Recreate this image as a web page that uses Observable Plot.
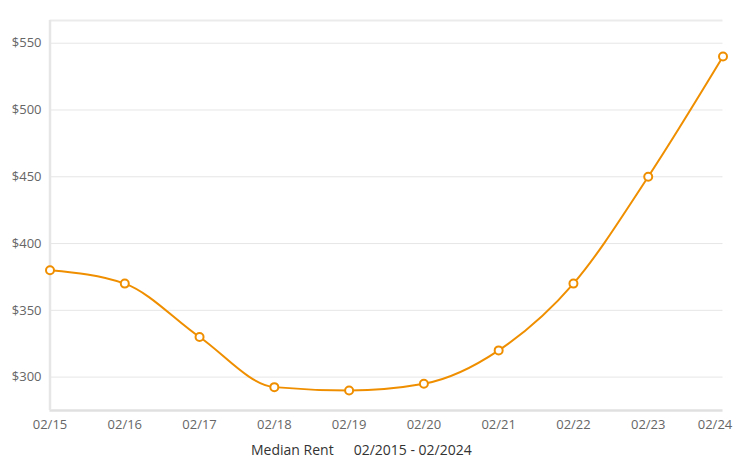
<!DOCTYPE html>
<html>
<head>
<meta charset="utf-8">
<script src="https://cdn.jsdelivr.net/npm/d3@7"></script>
<script src="https://cdn.jsdelivr.net/npm/@observablehq/plot@0.6"></script>
<style>
  body { margin: 0; background: #fff; font-family: "Open Sans", sans-serif; overflow: hidden; }
  #chart svg { display: block; }
  .caption { margin: 6px 0 0 251px; font-size: 14px; color: #333; white-space: pre; line-height: 19px; }
  .caption span + span { margin-left: 20px; }
</style>
</head>
<body>
<div id="chart"></div>
<script>
const months = ['02/15', '02/16', '02/17', '02/18', '02/19', '02/20', '02/21', '02/22', '02/23', '02/24'];
const rent = [380, 370, 330, 292.5, 290, 295, 320, 370, 450, 540];
const yTicks = [300, 350, 400, 450, 500, 550];
const yDomain = [275, 567];
const seriesName = 'Median Rent';
const period = '02/2015 - 02/2024';

const data = months.map((m, i) => ({ month: m, rent: rent[i] }));
const orange = '#ef8f00';

// the last month label is pulled inside the plot, like the original
const xAxisOpts = { tickSize: 0, tickPadding: 9, fill: '#666' };

const chart = Plot.plot({
  width: 743,
  height: 434,
  marginLeft: 49.5,
  marginRight: 20.5,
  marginTop: 20,
  marginBottom: 24,
  style: { fontFamily: '"Open Sans", sans-serif', fontSize: '13px', color: '#666', overflow: 'visible' },
  x: { type: 'point', domain: months, padding: 0, round: false, label: null },
  y: { domain: yDomain, label: null },
  marks: [
    Plot.gridY(yTicks, { stroke: '#e6e6e6', strokeOpacity: 1 }),
    Plot.ruleY([yDomain[1]], { stroke: '#ebebeb', strokeWidth: 2 }),
    Plot.ruleY([yDomain[0]], { stroke: '#e0e0e0', strokeWidth: 2.5 }),
    Plot.ruleX([months[0]], { stroke: '#e6e6e6', strokeWidth: 2.5 }),
    Plot.axisX(months.slice(0, -1), xAxisOpts),
    Plot.axisX(months.slice(-1), { ...xAxisOpts, dx: -8 }),
    Plot.axisY(yTicks, { tickSize: 0, tickPadding: 8.5, tickFormat: d => `$${d}`, fill: '#666' }),
    Plot.lineY(data, { x: 'month', y: 'rent', stroke: orange, strokeWidth: 2, curve: 'monotone-x' }),
    Plot.dot(data, { x: 'month', y: 'rent', r: 4, stroke: orange, strokeWidth: 2, fill: '#fff' })
  ]
});
document.getElementById('chart').append(chart);

const cap = document.createElement('div');
cap.className = 'caption';
for (const t of [seriesName, period]) {
  const s = document.createElement('span');
  s.textContent = t;
  cap.append(s);
}
document.body.append(cap);
</script>
</body>
</html>
